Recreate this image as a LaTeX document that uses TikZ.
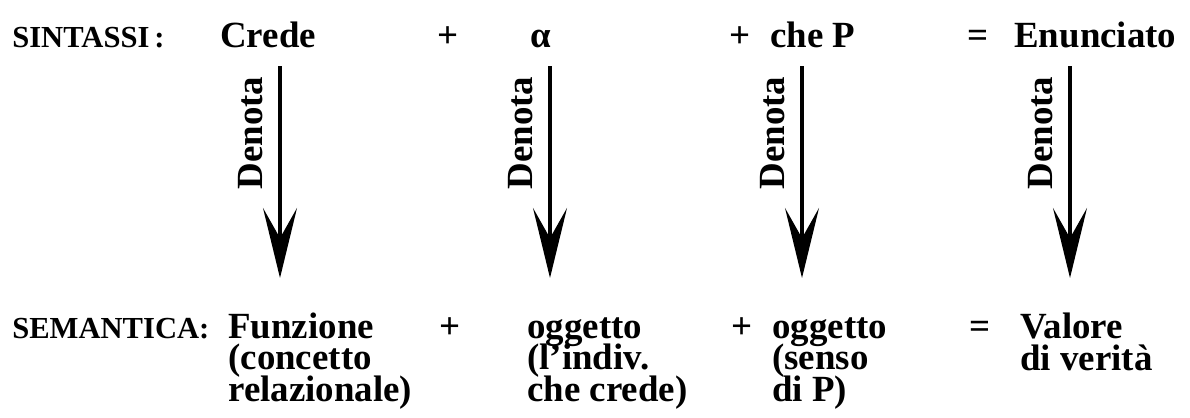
\documentclass[tikz,border=0pt]{standalone}
\usepackage{fontspec}
\setmainfont{Liberation Serif}
\usetikzlibrary{arrows.meta}
\newcommand{\righestrette}{\lineskiplimit=-20pt\relax}

\begin{document}
\begin{tikzpicture}[
    x=0.02cm, y=-0.02cm,
    font=\fontsize{21}{21}\selectfont\bfseries,
    word/.style={anchor=base west, inner sep=0pt},
    op/.style={anchor=base, inner sep=0pt},
    level/.style={
        anchor=base west, inner sep=0pt,
        font=\fontsize{17.4}{17.4}\selectfont\bfseries
    },
    col/.style={
        anchor=base west, inner sep=0pt, align=left,
        font={\fontsize{21}{17.8}\selectfont\bfseries\righestrette}
    },
    denarrow/.style={
        line width=0.08cm,
        -{Stealth[length=1.4cm, width=0.68cm, inset=0.6cm]}
    },
    denlabel/.style={rotate=90, anchor=base, inner sep=0pt}
]
\useasboundingbox (0,0) rectangle (1190,417);

%% ── Sintassi (riga alta) ─────────────────────────────────────────
\node[level] (sint)  at (12,47)   {SINTASSI\,:};
\node[word]  (crede) at (220,47)  {Crede};
\node[op]    (plusA) at (448,47)  {+};
\node[op]    (alpha) at (541,47)  {α};
\node[op]    (plusB) at (740,47)  {+};
\node[word]  (cheP)  at (770,47)  {che P};
\node[op]    (eqA)   at (978,47)  {=};
\node[word]  (enunc) at (1014,47) {Enunciato};

%% ── Semantica (ultima riga di ogni colonna a y=401) ──────────────
\node[level] (sem)    at (12,338)   {SEMANTICA:};
\node[col]   (funz)   at (228,401)  {Funzione\\(concetto\\relazionale)};
\node[op]    (plusC)  at (450,338)  {+};
\node[col]   (ogg)    at (527,401)  {oggetto\\(l’indiv.\\che crede)};
\node[op]    (plusD)  at (742,338)  {+};
\node[col]   (oggP)   at (772,401)  {oggetto\\(senso\\di P)};
\node[op]    (eqB)    at (980,338)  {=};
\node[col]   (valore) at (1020,370) {Valore\\di verità};

%% ── Frecce "Denota" ──────────────────────────────────────────────
\coordinate (d1s) at (280,66);
\coordinate (d1e) at (280,278);
\coordinate (d2s) at (550,66);
\coordinate (d2e) at (550,278);
\coordinate (d3s) at (802,66);
\coordinate (d3e) at (802,278);
\coordinate (d4s) at (1070,66);
\coordinate (d4e) at (1070,278);

\draw[denarrow] (d1s) -- (d1e);
\draw[denarrow] (d2s) -- (d2e);
\draw[denarrow] (d3s) -- (d3e);
\draw[denarrow] (d4s) -- (d4e);

\node[denlabel] (den1) at (262,133)  {Denota};
\node[denlabel] (den2) at (532,133)  {Denota};
\node[denlabel] (den3) at (784,133)  {Denota};
\node[denlabel] (den4) at (1052,133) {Denota};

\end{tikzpicture}
\end{document}
